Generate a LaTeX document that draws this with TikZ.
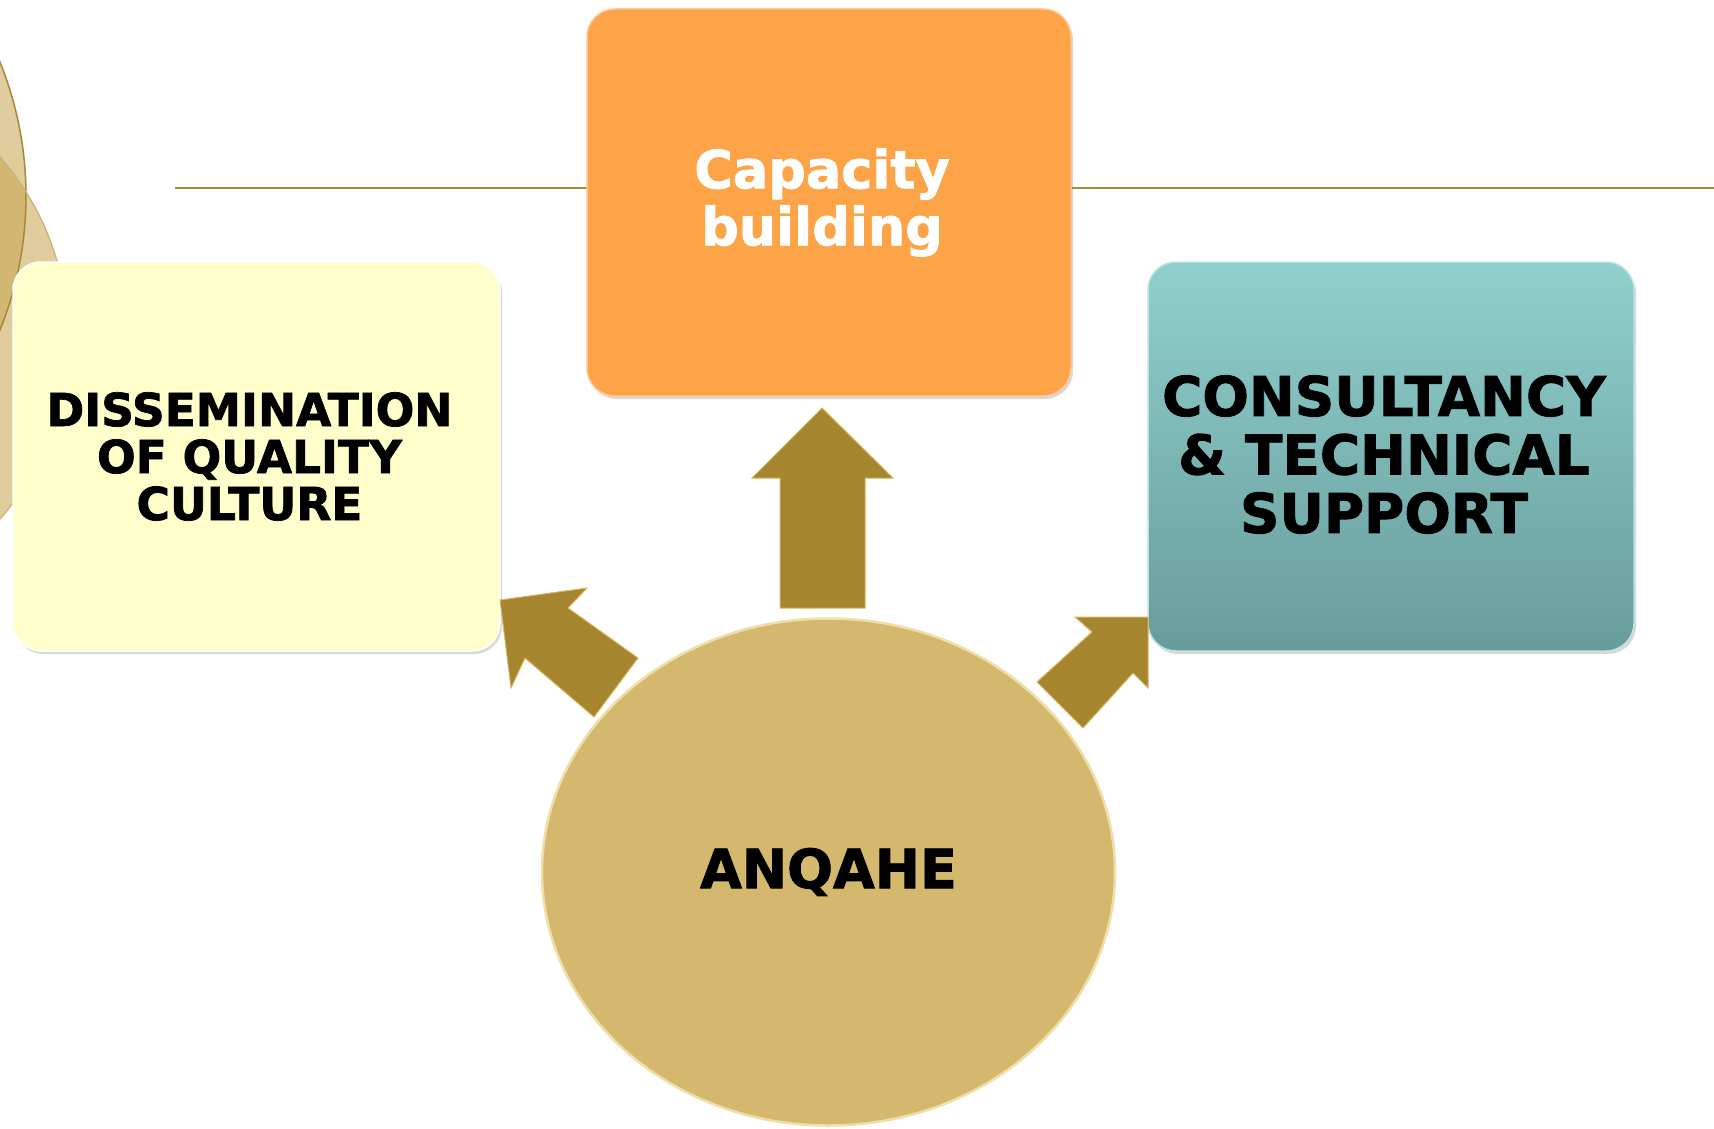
\documentclass[tikz,border=0pt]{standalone}
\usepackage{fontspec}
\setmainfont{DejaVu Sans}[BoldFeatures={FakeBold=1.6}]
\usetikzlibrary{shapes.geometric,shadows}
\definecolor{arrowgold}{RGB}{166,133,47}
\definecolor{arrowlight}{RGB}{214,182,96}
\definecolor{rulegold}{RGB}{170,138,60}
\definecolor{tanfill}{RGB}{200,165,80}
\definecolor{tandark}{RGB}{168,135,58}
\definecolor{tanlight}{RGB}{205,176,110}
\definecolor{orangebox}{RGB}{253,164,73}
\definecolor{yellowbox}{RGB}{255,255,204}
\definecolor{tealtop}{RGB}{143,208,204}
\definecolor{tealbot}{RGB}{104,156,156}
\definecolor{anqfill}{RGB}{212,184,110}
\definecolor{anqrim}{RGB}{240,222,168}
\begin{document}
\begin{tikzpicture}[x=1pt,y=-1pt,
  card/.style={rectangle, rounded corners=28pt, inner sep=0pt,
    drop shadow={shadow xshift=2pt, shadow yshift=-3pt, opacity=.25, fill=black!60}},
  cardtext/.style={inner sep=0pt, align=center},
  blockarrow/.style={fill=arrowgold, draw=arrowlight, line width=1pt, line join=miter},
  bigcircle/.style={fill=tanfill, fill opacity=.55}
]
\useasboundingbox (0,0) rectangle (1714,1129);
\fill[white] (0,0) rectangle (1714,1129);

% decorative circles at the left edge
\fill[bigcircle] (-330,196) circle (356pt);
\fill[bigcircle] (-207,338) circle (275pt);
\draw[tandark, line width=1.5pt] (-330,196) circle (356pt);
\draw[tanlight, line width=1.2pt] (-207,338) circle (275pt);

% horizontal rule
\draw[rulegold, line width=2pt] (175,188) -- (1714,188);

% boxes
\node[card, fill=orangebox, draw=orangebox!60!white, line width=1.5pt,
      minimum width=484pt, minimum height=387pt] (cap) at (829,202.5) {};
\node[card, fill=yellowbox, draw=white, line width=1.5pt,
      minimum width=487pt, minimum height=389pt] (dis) at (256.5,456.5) {};
\node[card, top color=tealtop, bottom color=tealbot, draw=tealtop!60!white, line width=1.5pt,
      minimum width=486pt, minimum height=389pt] (con) at (1391,456.5) {};

\node[cardtext, text=white, font=\bfseries\fontsize{52.5}{57}\selectfont]
  (captext) at ([xshift=-7pt]cap.center) {Capacity\\building};
\node[cardtext, font=\bfseries\fontsize{45.5}{47}\selectfont]
  (distext) at ([xshift=-7pt]dis.center) {DISSEMINATION\\OF QUALITY\\CULTURE};
\node[cardtext, font=\bfseries\fontsize{54.8}{58.5}\selectfont]
  (context) at ([xshift=-7pt,yshift=2pt]con.center) {CONSULTANCY\\\&~TECHNICAL\\SUPPORT};

% central ellipse
\node[ellipse, fill=anqfill, draw=anqrim, line width=2.5pt, inner sep=0pt,
      minimum width=573pt, minimum height=507pt,
      font=\bfseries\fontsize{54}{58}\selectfont] (anq) at (828.5,872) {ANQAHE};

% block arrows
\draw[blockarrow] (780,608) -- (780,478) -- (752,478) -- (822,408) -- (893,478) -- (865,478) -- (865,608) -- cycle;
\draw[blockarrow] (500,600) -- (587,588) -- (568,608) -- (638,658) -- (594,717) -- (525,658) -- (511,688) -- cycle;
\draw[blockarrow] (1148,617) -- (1148,688) -- (1133,673) -- (1083,728) -- (1037,682) -- (1092,632) -- (1075,617) -- cycle;
\end{tikzpicture}
\end{document}
